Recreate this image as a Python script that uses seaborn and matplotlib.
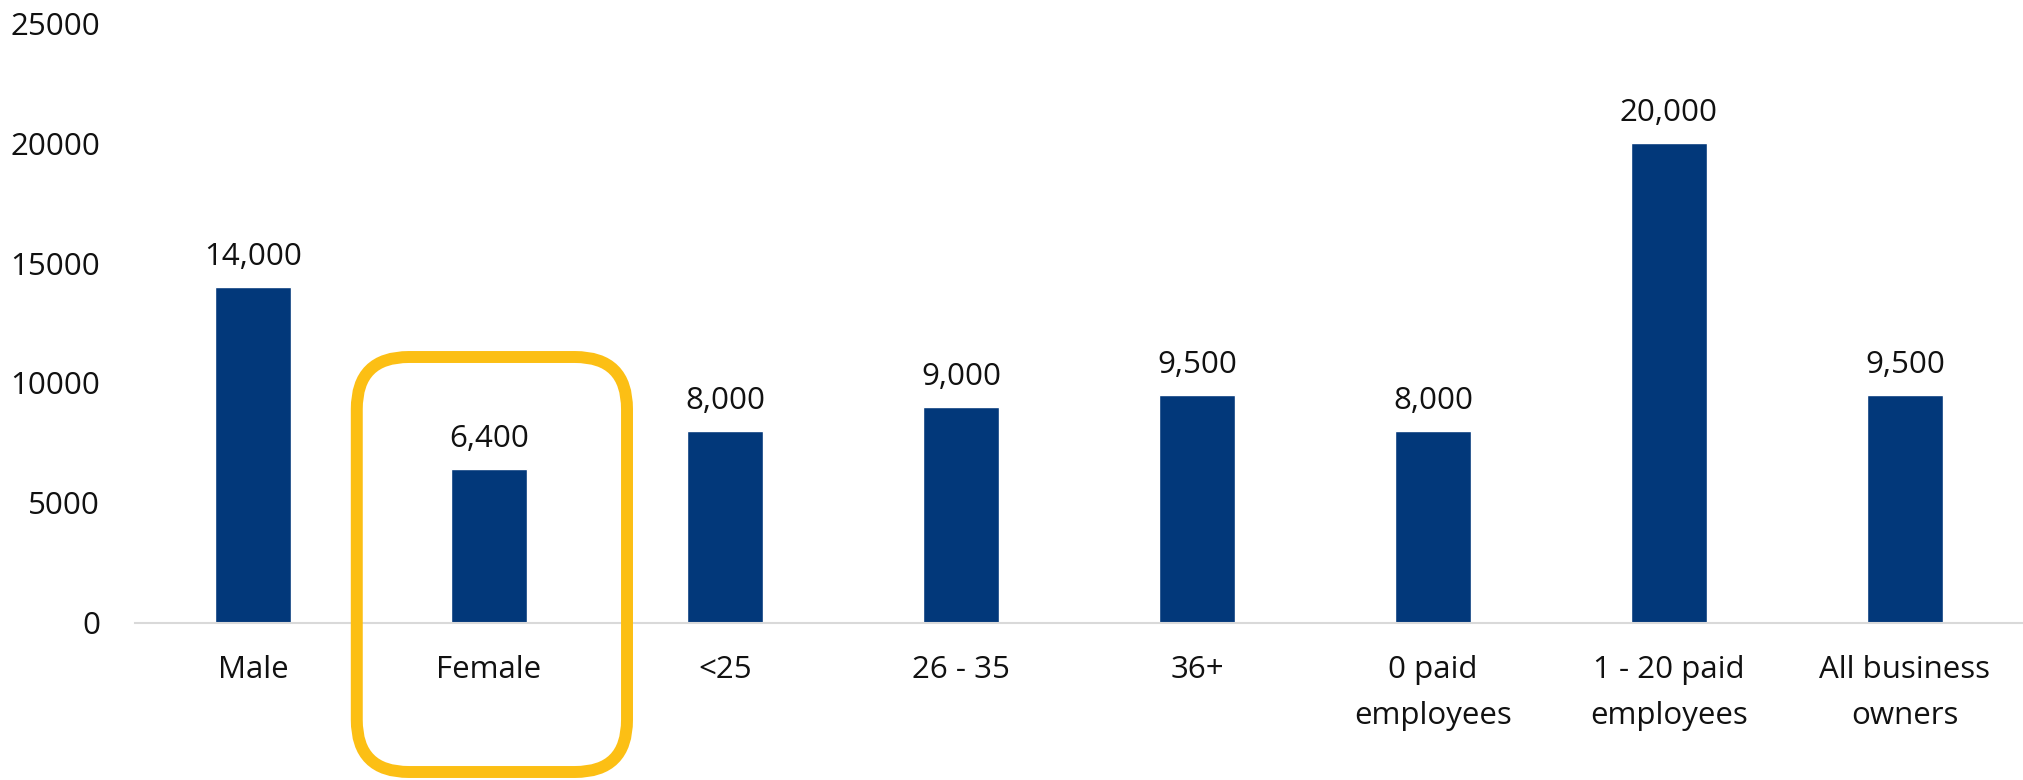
import matplotlib
matplotlib.use("Agg")
import matplotlib.pyplot as plt
from matplotlib.patches import FancyBboxPatch
from matplotlib.transforms import IdentityTransform
import seaborn as sns
import pandas as pd

# Values by group
categories = ["Male", "Female", "<25", "26 - 35", "36+",
              "0 paid\nemployees", "1 - 20 paid\nemployees", "All business\nowners"]
values = [14000, 6400, 8000, 9000, 9500, 8000, 20000, 9500]
y_ticks = [0, 5000, 10000, 15000, 20000, 25000]
highlight = "Female"

BAR_COLOR = "#02387A"
BOX_COLOR = "#FCBF14"
AXIS_COLOR = "#D9D9D9"
TEXT_COLOR = "#111111"
FONT_SIZE = 22.5

sns.set_theme(style="white")
plt.rcParams["font.family"] = ["Open Sans", "DejaVu Sans"]

df = pd.DataFrame({"group": categories, "value": values})

fig = plt.figure(figsize=(20.23, 7.80), dpi=100)
ax = fig.add_axes([0.0667, 0.2013, 0.9333, 0.7692])

sns.barplot(data=df, x="group", y="value", color=BAR_COLOR, saturation=1,
            width=0.32, ax=ax)

ax.set_xlim(-0.5, len(categories) - 0.5)
ax.set_ylim(0, 25000)
ax.set_yticks(y_ticks)
ax.set_yticklabels([str(t) for t in y_ticks])
ax.set_xlabel("")
ax.set_ylabel("")

for side in ["top", "right", "left"]:
    ax.spines[side].set_visible(False)
ax.spines["bottom"].set_color(AXIS_COLOR)
ax.spines["bottom"].set_linewidth(1.5)

ax.tick_params(axis="y", length=0, pad=25, labelsize=FONT_SIZE, labelcolor=TEXT_COLOR)
ax.tick_params(axis="x", length=0, pad=23, labelsize=FONT_SIZE, labelcolor=TEXT_COLOR)
for lab in ax.get_xticklabels():
    lab.set_linespacing(1.7)

# Value labels above each bar
for i, v in enumerate(values):
    ax.annotate(f"{v:,}", xy=(i, v), xytext=(0, 16), textcoords="offset points",
                ha="center", va="baseline", fontsize=FONT_SIZE, color=TEXT_COLOR)

# Rounded highlight frame around the selected group
idx = categories.index(highlight)
fig.canvas.draw()
x0_px = ax.transData.transform((idx - 0.56, 0))[0]
x1_px = ax.transData.transform((idx + 0.585, 0))[0]
H = fig.bbox.height
y_top_px = H - 357
y_bot_px = H - 772
frame = FancyBboxPatch((x0_px, y_bot_px), x1_px - x0_px, y_top_px - y_bot_px,
                       boxstyle="round,pad=0,rounding_size=52",
                       transform=IdentityTransform(), facecolor="none",
                       edgecolor=BOX_COLOR, linewidth=8.6, clip_on=False)
fig.patches.append(frame)

fig.savefig("out.png", dpi=100, facecolor="white")
